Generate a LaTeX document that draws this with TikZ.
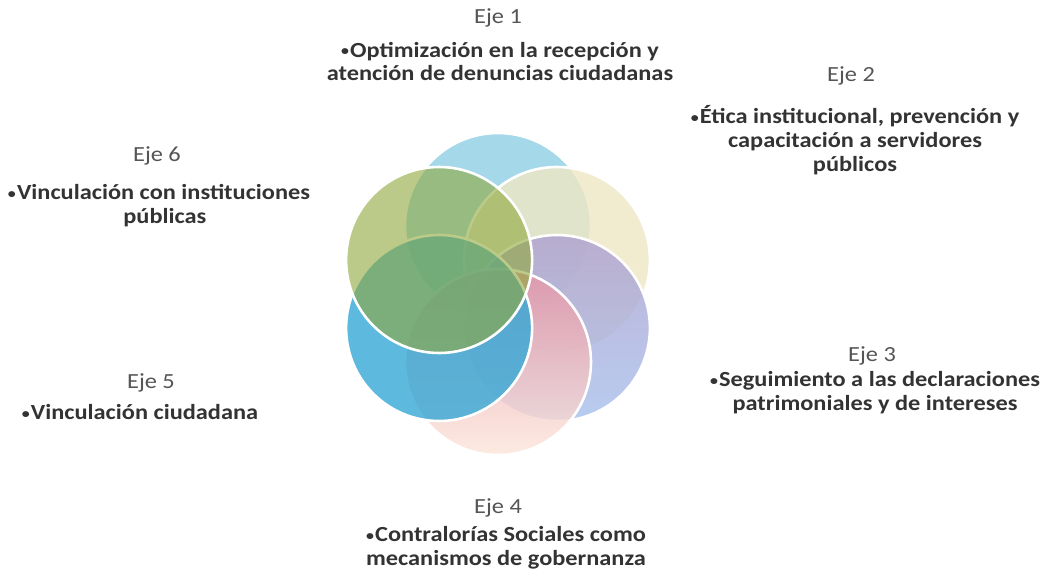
\documentclass[tikz,border=0pt]{standalone}
\usepackage{fontspec}
\setmainfont{Carlito}[FakeStretch=1.13]
\definecolor{cian}{HTML}{8FD0E4}
\definecolor{crema}{HTML}{EEE7C4}
\definecolor{lilaA}{HTML}{AE9FD0}
\definecolor{lilaB}{HTML}{A6C0EC}
\definecolor{rosaA}{HTML}{E593A6}
\definecolor{rosaB}{HTML}{FCE6DA}
\definecolor{azul}{HTML}{35A8D6}
\definecolor{verde}{HTML}{8FA83A}
\definecolor{gristexto}{HTML}{333333}
\definecolor{griseje}{HTML}{555555}
\newcommand{\vineta}{{\fontsize{12}{12}\selectfont\raisebox{1.2pt}{•}}\kern1pt}
\begin{document}
\begin{tikzpicture}[x=0.03cm, y=-0.03cm,
    eje/.style={font=\fontsize{18.4}{20.4}\selectfont, text=griseje, inner sep=0pt},
    punto/.style={font=\fontsize{18.4}{20.4}\selectfont\bfseries, text=gristexto, align=center, inner sep=0pt}]
  \useasboundingbox (0,0) rectangle (1043,584);
  \fill[white] (0,0) rectangle (1043,584);
  % anillo de circulos
  \begin{scope}[shift={(498,294)}]
    \foreach \ang/\ca/\cb/\op in {-90/cian/cian/0.8, -30/crema/crema/0.8, 30/lilaA/lilaB/0.8,
                                  90/rosaA/rosaB/0.8, 150/azul/azul/0.8, 210/verde/verde/0.6}
    {\draw[white, line width=2.2pt, top color=\ca, bottom color=\cb, fill opacity=\op]
        (\ang:68) circle[radius=93];
    }
  \end{scope}
  % ejes
  \node[eje] (e1) at (498, 17.5) {Eje 1};
  \node[punto] (t1) at (500, 61.5) {\vineta Optimización en la recepción y\\atención de denuncias ciudadanas};
  \node[eje] (e2) at (851, 76) {Eje 2};
  \node[punto] (t2) at (855, 140.5) {\vineta Ética institucional, prevención y\\capacitación a servidores\\públicos};
  \node[eje] (e3) at (872, 356) {Eje 3};
  \node[punto] (t3) at (875, 392.5) {\vineta Seguimiento a las declaraciones\\patrimoniales y de intereses};
  \node[eje] (e4) at (498, 507.5) {Eje 4};
  \node[punto] (t4) at (506, 548) {\vineta Contralorías Sociales como\\mecanismos de gobernanza};
  \node[eje] (e5) at (151, 383) {Eje 5};
  \node[punto] (t5) at (140, 412.5) {\vineta Vinculación ciudadana};
  \node[eje] (e6) at (157, 156) {Eje 6};
  \node[punto] (t6) at (159, 205.5) {\vineta Vinculación con instituciones\\\hspace*{10pt}públicas};
\end{tikzpicture}
\end{document}
